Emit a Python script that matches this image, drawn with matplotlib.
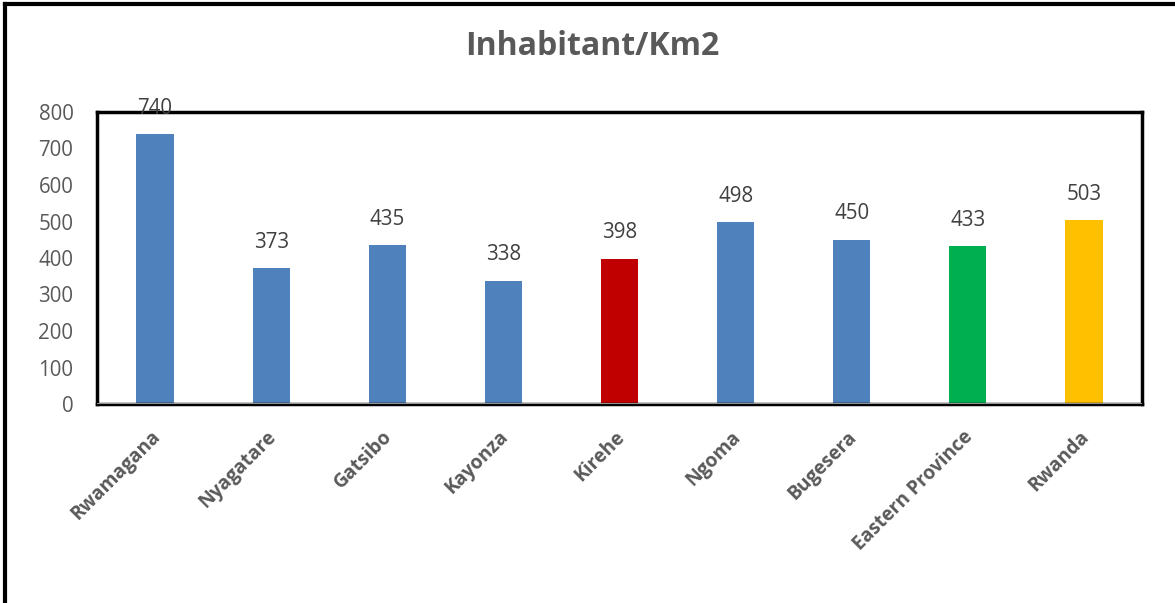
import matplotlib
matplotlib.use("Agg")

import matplotlib.pyplot as plt
import matplotlib.transforms as mtransforms
from matplotlib.lines import Line2D

# data
districts = ["Rwamagana", "Nyagatare", "Gatsibo", "Kayonza", "Kirehe",
             "Ngoma", "Bugesera", "Eastern Province", "Rwanda"]
density = [740, 373, 435, 338, 398, 498, 450, 433, 503]
bar_colors = ["#4F81BD", "#4F81BD", "#4F81BD", "#4F81BD", "#C00000",
              "#4F81BD", "#4F81BD", "#00B050", "#FFC000"]

plt.rcParams["font.family"] = ["Open Sans", "DejaVu Sans"]

fig = plt.figure(figsize=(11.75, 6.03), dpi=100)
ax = fig.add_axes([97 / 1175, 1 - 404 / 603, (1142 - 97) / 1175, (404 - 112) / 603])

x = range(len(districts))
ax.bar(x, density, width=0.32, color=bar_colors, zorder=2)

for i, v in enumerate(density):
    ax.annotate(f"{v}", xy=(i, v), xytext=(0, 11), textcoords="offset points",
                ha="center", va="bottom", fontsize=14.8, color="#404040")

ax.set_xlim(-0.5, len(districts) - 0.5)
ax.set_ylim(0, 800)
ax.set_yticks(range(0, 801, 100))
ax.tick_params(axis="y", length=0, pad=17, labelsize=14.8, labelcolor="#595959")
ax.tick_params(axis="x", length=0)
ax.set_xticks(list(x))
ax.set_xticklabels(districts, rotation=45, ha="right", va="center",
                   rotation_mode="anchor", fontsize=13.8, fontweight="bold",
                   color="#595959")
# Excel places the end of each rotated label a bit below the axis, right under the bar
offset = mtransforms.ScaledTranslation(2 / 100, -25 / 100, fig.dpi_scale_trans)
for lab in ax.get_xticklabels():
    lab.set_transform(lab.get_transform() + offset)

for s in ax.spines.values():
    s.set_linewidth(2.5)
    s.set_color("black")
ax.axhline(0, color="#A6A6A6", linewidth=2, zorder=3)

fig.text(0.504, 0.923, "Inhabitant/Km2", ha="center", va="center",
         fontsize=23, fontweight="bold", color="#595959")

# outer frame (top and left)
fig.add_artist(Line2D([5 / 1175, 1], [1 - 4 / 603, 1 - 4 / 603], color="black",
                      linewidth=3, transform=fig.transFigure))
fig.add_artist(Line2D([5 / 1175, 5 / 1175], [0, 1 - 4 / 603], color="black",
                      linewidth=3, transform=fig.transFigure))

fig.savefig("out.png", dpi=100)
plt.close(fig)
